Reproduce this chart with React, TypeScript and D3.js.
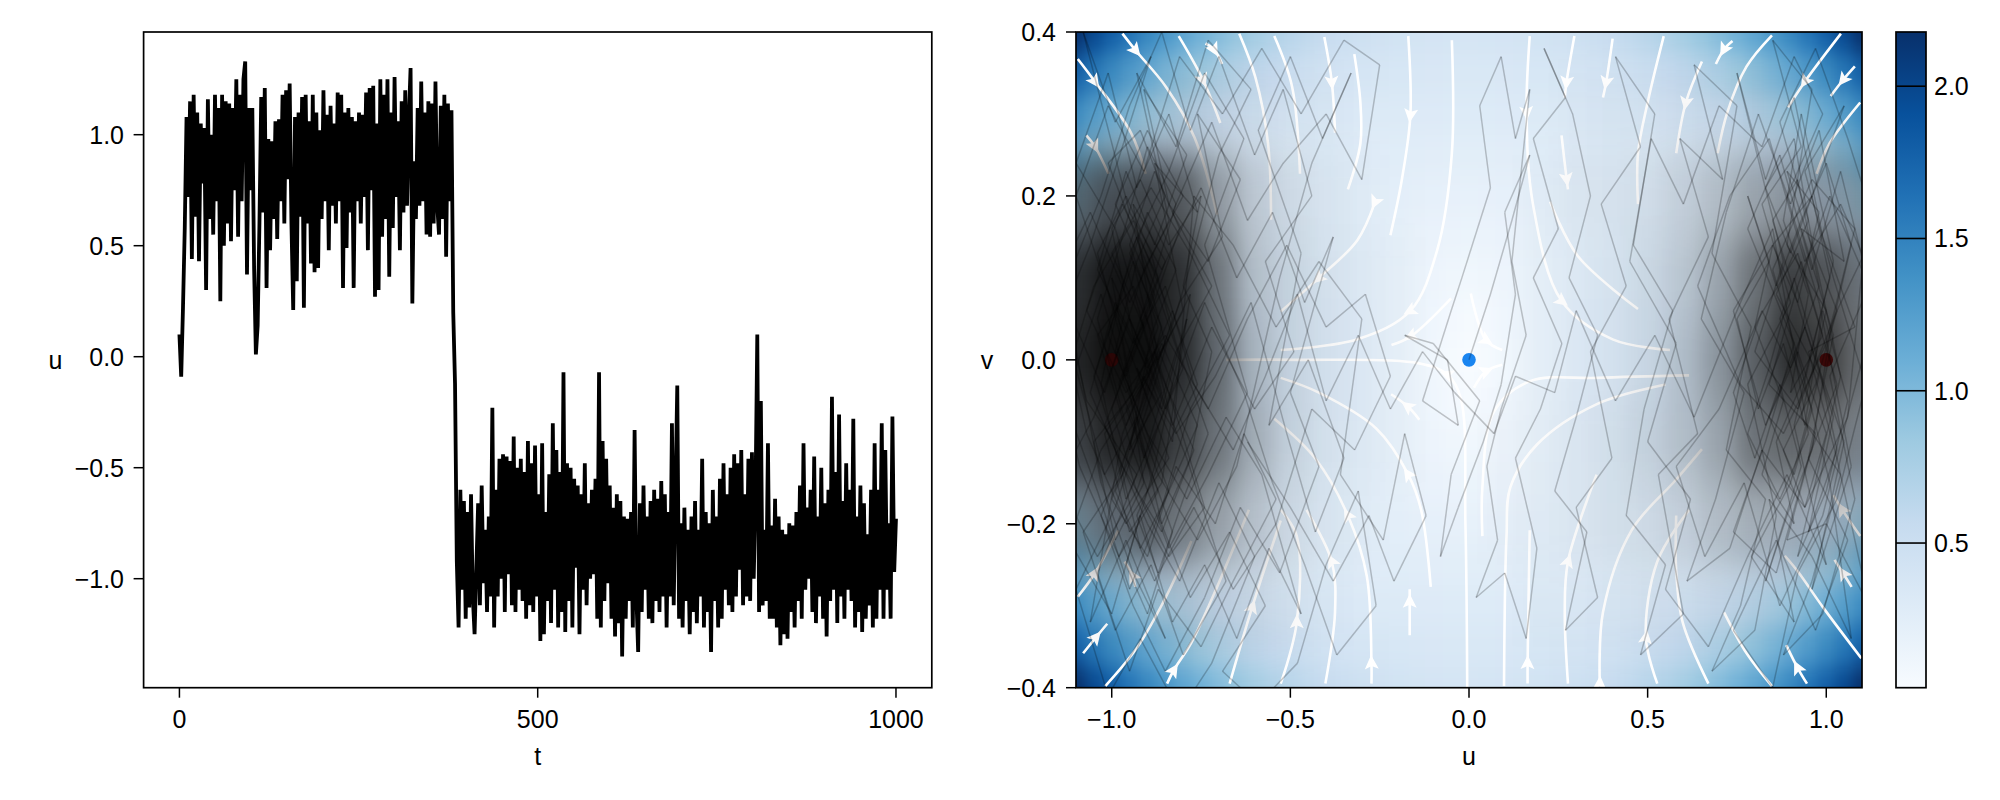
import React from "react";
import * as d3 from "d3";

// Time series u(t), hundredths, evenly spaced over t = 0..1000
const seriesU = [
10,-9,22,58,108,72,115,44,118,63,110,43,105,78,103,30,116,62,100,55,
118,70,112,25,118,50,115,60,114,52,112,75,125,54,118,70,125,133,37,112,
75,112,40,1,14,60,117,65,121,31,98,48,97,62,106,53,107,70,118,60,
120,80,123,60,21,108,34,110,63,117,22,118,60,106,42,118,38,110,40,102,
62,120,70,109,48,113,68,105,60,119,70,118,31,110,49,112,65,108,31,106,
70,110,60,109,72,119,48,121,75,122,27,105,30,125,54,118,62,125,36,110,
58,126,72,106,48,115,65,120,68,107,130,24,88,62,112,68,124,70,110,55,
115,54,114,60,124,68,55,113,62,118,45,114,70,111,
20,-12,-92,-122,
-60,-105,-65,-118,-70,-113,-62,-108,-125,-95,-66,-112,-58,-102,-78,-115,-72,-108,-23,-122,
-60,-108,-46,-100,-44,-115,-45,-98,-47,-112,-36,-115,-50,-105,-46,-110,-52,-118,-38,-112,
-48,-115,-40,-108,-62,-128,-39,-125,-70,-110,-53,-120,-30,-105,-42,-122,-52,-115,-7,-124,
-48,-110,-50,-122,-55,-95,-58,-125,-62,-105,-48,-112,-66,-100,-60,-98,-55,-118,-7,-122,
-38,-110,-46,-102,-58,-118,-68,-126,-62,-120,-65,-135,-72,-118,-73,-110,-70,-122,-33,-108,
-133,-66,-115,-58,-105,-72,-118,-65,-120,-60,-110,-64,-115,-56,-108,-62,-122,-70,-108,-30,-112,
-60,-13,-118,-75,-122,-68,-110,-78,-125,-72,-115,-65,-120,-78,-108,-46,-122,-70,-115,-75,
-133,-60,-110,-72,-122,-55,-118,-48,-105,-62,-112,-50,-115,-44,-108,-48,-96,-42,-112,-62,
-108,-46,-110,-43,-100,-62,10,-115,-20,-112,-78,-110,-39,-118,-76,-118,-64,-122,-72,-130,-78,-125,
-80,-127,-75,-115,-76,-122,-70,-110,-58,-118,-39,-105,-68,-100,-60,-115,-45,-120,-72,-108,
-50,-118,-66,-126,-60,-110,-18,-105,-52,-120,-26,-108,-65,-118,-48,-105,-60,-110,-28,-122,
-72,-115,-58,-124,-66,-118,-80,-112,-60,-122,-39,-118,-60,-105,-30,-118,-42,-105,-75,-118,-27,-97,-73,
];
const timeTicks = [0, 500, 1000];
const seriesTicks = [-1, -0.5, 0, 0.5, 1];

// Phase-plane trajectory as u,v pairs in hundredths
const pathStart = [
0,0,6,8,12,17,17,25,10,18,13,8,9,-3,4,-10,-3,-18,-8,-24,-5,-14,3,-5,-10,2,-18,3,-6,0,-3,-8,-13,-5,-5,6,-2,10,
6,21,3,31,9,37,13,27,17,33,12,12,16,3,9,-6,5,-13,8,-22,2,-29,10,-26,16,-34,19,-23,13,-12,20,-6,26,2,18,10,
25,16,18,27,27,32,21,38,29,30,34,20,28,10,36,3,30,-7,24,-16,33,-21,27,-33,36,-29,30,-18,40,-12,34,1,
];
const pathRightWell = [
44,9,37,19,48,26,41,37,52,30,46,14,57,6,49,-6,44,-19,55,-25,48,-36,60,-31,53,-14,64,-9,56,5,67,15,59,27,71,22,
63,36,75,31,68,13,79,4,72,-11,83,-17,76,-30,68,-38,80,-33,86,-19,78,-3,90,7,82,19,93,26,85,39,96,33,89,14,
100,6,93,-7,104,-14,96,-27,88,-36,99,-31,108,-17,101,-2,112,9,104,23,96,11,87,25,78,16,91,2,83,-10,74,-21,86,-26,
95,-12,102,3,93,16,105,12,98,28,90,19,81,30,72,18,65,5,77,-4,69,-17,61,-27,73,-23,82,-11,94,-18,106,-7,110,11,
101,20,92,9,84,-3,97,-9,89,-22,100,-20,112,-30,103,-12,95,1,108,4,99,15,91,32,83,22,75,35,88,12,80,1,
92,-6,103,6,114,16,106,27,97,38,87,29,95,17,86,8,98,-2,90,-15,79,-24,91,-32,84,-17,96,-24,107,-34,101,-15,
93,-1,85,11,96,22,108,16,100,2,88,-9,76,-3,64,9,73,20,84,27,94,12,104,19,115,8,107,-5,99,-19,87,-30,
77,-15,66,-24,58,-13,70,-6,81,5,92,13,103,-3,95,-12,106,-22,97,-33,86,-22,74,-33,85,-40,92,-26,103,-17,
111,-3,102,10,94,23,105,31,96,20,85,14,74,6,83,-8,94,4,105,-10,96,-28,107,-13,98,7,89,20,99,30,91,37,
82,26,70,31,60,19,51,27,45,12,58,2,50,-10,62,-17,55,-28,67,-35,78,-24,89,-14,100,-25,91,-8,102,12,93,30,
];
const pathRightCore = [
88,17,95,8,90,-4,99,3,93,12,87,5,96,-6,91,-14,84,-7,92,1,100,-9,94,-18,88,-11,97,-3,103,6,95,15,89,23,98,18,
92,7,85,14,80,4,88,-5,82,-14,91,-20,86,-10,94,-2,101,10,96,20,90,13,83,21,91,27,97,12,104,-2,98,-13,92,-24,100,-16,
106,-5,99,6,94,-8,88,2,81,-6,75,5,84,12,78,20,86,9,93,17,100,24,107,14,101,3,96,-11,89,-19,83,-27,93,-13,87,-3,
80,-12,74,-4,82,6,90,-1,98,9,92,22,85,17,94,4,102,-7,95,-21,103,-11,97,1,91,10,84,-1,78,-9,87,-17,95,-9,89,6,
];
const pathCrossing = [
85,16,74,5,63,-7,52,3,41,-5,30,6,24,-4,13,-2,7,-9,-4,-4,-13,1,-22,-6,-31,3,-40,-5,-48,8,-57,-2,-66,-11,
];
const pathLeftWell = [
-77,-3,-85,9,-94,2,-104,11,-96,23,-88,14,-79,25,-91,33,-84,19,-73,12,-64,22,-76,30,-69,15,-81,7,-92,-6,-100,-17,-90,-24,-82,-13,
-71,-20,-63,-9,-54,-17,-66,-27,-75,-35,-87,-28,-95,-38,-104,-26,-93,-14,-107,-5,-114,8,-103,20,-95,31,-86,40,-78,28,-70,37,-60,25,
-52,33,-44,20,-57,12,-49,1,-60,-6,-72,4,-83,-8,-94,12,-105,-2,-97,-13,-86,-21,-77,-11,-89,1,-99,16,-110,24,-101,35,-93,21,-84,30,
-76,18,-88,24,-80,6,-91,-3,-103,-11,-112,-22,-100,-31,-92,-19,-83,-32,-74,-25,-65,-34,-56,-23,-47,-31,-58,-14,-68,-7,-79,-17,-90,-9,-101,3,
-93,15,-85,2,-96,-6,-87,-16,-98,-24,-109,-13,-117,2,-106,14,-97,26,-89,37,-99,29,-108,40,-95,18,-86,11,-75,21,-65,10,-55,18,-46,7,
-38,15,-50,-4,-42,-13,-53,-26,-64,-18,-74,-29,-85,-38,-94,-30,-103,-19,-92,-7,-83,5,-94,17,-105,9,-114,-4,-104,-16,-95,-28,-86,-18,-78,-6,
-67,3,-78,13,-89,21,-100,13,-91,4,-102,-8,-90,-20,-81,-27,-70,-15,-60,-24,-72,-37,-81,-43,-92,-34,-101,-41,-110,-28,-99,-18,-88,-3,-79,10,
-70,25,-61,33,-73,39,-82,26,-93,35,-84,17,-95,7,-106,18,-116,9,-107,-9,-96,-20,-84,-12,-93,-1,-82,-9,-71,-2,-61,7,-51,-9,-43,-21,
-35,-12,-45,0,-56,-8,-47,13,-59,28,-50,37,-41,27,-33,35,-44,24,-53,10,-65,-13,-76,-22,-87,-14,-97,-2,-88,8,-99,19,-90,28,-80,20,
-91,11,-102,-4,-112,6,-103,-15,-94,-26,-85,-34,-96,-22,-106,-32,-97,-9,-86,2,-76,-8,-87,-19,-78,-29,-67,-21,-57,-30,-69,-38,-59,-42,-48,-37,
-40,-25,-31,-16,-26,-30,-37,-36,-46,-25,-55,-15,-63,-4,-74,7,-85,-6,-95,5,-105,-7,-115,-15,-104,-24,-93,-16,-83,-3,-94,9,-104,3,-95,-10,
-84,-23,-73,-14,-62,-4,-74,14,-63,27,-74,35,-84,23,-95,13,-86,4,-97,-14,-108,-21,-99,-33,-89,-25,-80,-36,-68,-27,-79,-12,-90,0,-100,10,
-91,-12,-82,1,-72,9,-83,18,-72,29,-62,17,-52,24,-40,30,-30,22,-25,36,-35,39,-47,30,-58,38,-69,30,-81,37,-91,23,-101,31,-110,20,-100,7,
-89,-6,-99,-16,-88,-27,-77,-18,-66,-28,-54,-20,-44,-6,-32,-11,-22,-2,-29,8,-40,4,-51,14,-62,5,-73,-6,-85,3,-96,-4,-107,6,-97,19,-87,10,
];
const pathLeftCore = [
-92,5,-86,-4,-95,-11,-89,3,-82,11,-90,18,-97,9,-103,-3,-96,-17,-88,-9,-80,-1,-87,8,-94,16,-101,24,-92,28,-85,20,-93,12,-99,1,
-91,-8,-84,-16,-92,-23,-98,-12,-106,-4,-99,7,-90,-1,-83,6,-76,-3,-85,-11,-93,-19,-87,-26,-80,-17,-73,-9,-82,2,-89,13,-96,20,-104,13,
-97,2,-91,-15,-99,-22,-105,-10,-94,-4,-87,4,-95,14,-88,23,-81,16,-89,6,-96,-2,-103,8,-110,-1,-102,-14,-93,-7,-86,-20,-78,-12,-72,1,
-80,9,-75,20,-84,14,-92,22,-100,16,-94,3,-86,-6,-79,5,-88,-13,-96,-25,-90,-31,-83,-21,-91,-11,-98,-3,-89,9,-82,19,-90,26,-97,15,
-104,5,-96,-8,-88,1,-81,-8,-74,-18,-84,-24,-93,-16,-100,-6,-92,4,-85,12,-94,19,-87,0,-78,8,-86,-15,-95,-21,-102,-9,-91,-2,-83,-10,
];
const pathLateCentre = [
-77,20,-66,14,-54,4,-42,12,-30,5,-36,-14,-24,-22,-18,-9,-12,-19,-21,-27,-28,-19,-38,-27,-50,-18,-62,-10,
];

const speedByU = [
[0,.05,.1,.15,.2,.25,.3,.35,.4,.45],
[.05,.07,.11,.155,.202,.251,.301,.351,.402,.454],
[.099,.109,.135,.17,.21,.255,.303,.354,.409,.466],
[.147,.152,.167,.19,.222,.261,.307,.36,.419,.486],
[.192,.194,.201,.214,.236,.268,.312,.368,.435,.514],
[.234,.234,.234,.239,.251,.277,.319,.379,.456,.55],
[.273,.271,.266,.263,.266,.286,.327,.393,.483,.594],
[.307,.303,.294,.283,.28,.294,.337,.411,.515,.645],
[.336,.331,.318,.301,.291,.302,.349,.434,.555,.705],
[.359,.353,.336,.315,.299,.311,.364,.463,.601,.773],
[.375,.368,.348,.323,.305,.319,.382,.498,.656,.85],
[.384,.376,.354,.325,.307,.328,.406,.54,.719,.936],
[.384,.375,.351,.322,.308,.34,.437,.591,.792,1.032],
[.375,.366,.341,.313,.307,.357,.476,.652,.875,1.138],
[.357,.348,.323,.3,.308,.381,.524,.723,.968,1.254],
[.328,.319,.297,.283,.314,.416,.583,.805,1.073,1.383],
[.288,.28,.265,.269,.33,.462,.655,.899,1.189,1.523],
[.236,.232,.229,.262,.36,.522,.744,1.006,1.318,1.675],
[.171,.174,.198,.273,.408,.598,.838,1.126,1.461,1.842],
[.093,.117,.19,.31,.477,.691,.952,1.261,1.617,2.021],
[0,.103,.224,.375,.566,.8,1.082,1.411,1.789,2.216],
[.108,.17,.299,.466,.668,.928,1.228,1.576,1.976,2.426],
[.231,.281,.406,.582,.808,1.072,1.389,1.758,2.178,2.653],
[.371,.416,.539,.72,.952,1.235,1.569,1.957,2.398,2.895],
[.528,.571,.692,.878,1.12,1.416,1.767,2.173,2.635,3.155],
];

// How dark the overplotted trajectory looks, rows v = 0.4 .. -0.4, columns u = -1.1 .. 1.1 (steps of 0.1)
const cloudDarkness = [
[0,0,0,0,0,0,0,0,0,0,0,0,0,0,0,0,0,0,0,0,0,0,0],
[.02,.04,.06,.08,.06,.04,.02,.01,0,0,0,0,0,0,.01,.02,.02,.03,.04,.06,.05,.03,.02],
[.50,.65,.70,.62,.35,.15,.07,.03,.01,0,0,0,0,.01,.03,.04,.06,.12,.20,.30,.36,.32,.28],
[.80,.92,.92,.80,.50,.18,.09,.04,.02,.01,0,0,0,.01,.02,.03,.07,.15,.30,.52,.75,.66,.50],
[.85,.95,.95,.82,.55,.22,.09,.04,.02,.01,0,0,0,.01,.02,.03,.07,.18,.36,.60,.82,.76,.55],
[.72,.86,.90,.72,.50,.26,.10,.04,.02,.01,0,0,.01,.02,.03,.05,.10,.18,.30,.52,.58,.54,.44],
[.38,.52,.60,.48,.32,.18,.08,.03,.01,0,0,0,.01,.02,.03,.05,.07,.12,.20,.26,.26,.22,.18],
[.02,.05,.08,.10,.08,.06,.03,.01,0,0,0,0,0,.01,.01,.02,.03,.03,.04,.04,.03,.02,.01],
[0,0,0,0,0,0,0,0,0,0,0,0,0,0,0,0,0,0,0,0,0,0,0],
];

// Streamlines in flow order: u,v pairs; the arrowheads sit at the listed vertices
const streamlines: { pts: number[]; arrows: number[] }[] = [
{ pts:[-1.095,.367,-1.048,.34,-.946,.277,-.905,.227], arrows:[1] },
{ pts:[-.97,.398,-.934,.378,-.848,.333,-.768,.271,-.705,.177], arrows:[1] },
{ pts:[-.8125,.395,-.745,.342,-.696,.289], arrows:[1] },
{ pts:[-.7375,.386,-.714,.379,-.691,.361], arrows:[1] },
{ pts:[-.643,.398,-.598,.345,-.5625,.264,-.554,.171], arrows:[] },
{ pts:[-.545,.395,-.495,.333,-.473,.227], arrows:[] },
{ pts:[-.405,.394,-.384,.339,-.375,.277], arrows:[1] },
{ pts:[-.321,.373,-.304,.314,-.304,.264,-.339,.208], arrows:[] },
{ pts:[-.17,.395,-.164,.299,-.1875,.221,-.22,.152], arrows:[1] },
{ pts:[-.048,.39,-.048,.252,-.089,.134,-.164,.06,-.3125,.025,-.527,.012], arrows:[3] },
{ pts:[-.2625,.193,-.3125,.146,-.42,.1,-.527,.059], arrows:[0,2] },
{ pts:[-.005,-.4,-.01,-.2,-.023,-.047,-.06,-.018,-.143,-.004,-.477,0,-.68,0], arrows:[3] },
{ pts:[-.05,.075,-.162,.029,-.217,.018], arrows:[1] },
{ pts:[-.139,-.073,-.171,-.057,-.218,-.042], arrows:[1] },
{ pts:[-.107,-.277,-.134,-.183,-.17,-.14,-.259,-.084,-.42,-.04,-.527,-.022], arrows:[2] },
{ pts:[-.273,-.395,-.273,-.37,-.286,-.264,-.339,-.19,-.429,-.121,-.545,-.072], arrows:[1,3] },
{ pts:[-.166,-.336,-.166,-.295,-.166,-.28], arrows:[1] },
{ pts:[-.402,-.395,-.375,-.308,-.384,-.246,-.455,-.183], arrows:[2] },
{ pts:[-.527,-.395,-.482,-.32,-.482,-.215,-.527,-.183], arrows:[1] },
{ pts:[-.67,-.395,-.607,-.302,-.527,-.196], arrows:[1] },
{ pts:[-.845,-.395,-.827,-.379,-.777,-.345,-.705,-.277,-.616,-.183], arrows:[1] },
{ pts:[-1.018,-.398,-.929,-.351,-.848,-.289,-.777,-.221], arrows:[] },
{ pts:[-1.08,-.358,-1.045,-.339,-1.0125,-.322], arrows:[1] },
{ pts:[-1.095,-.289,-1.048,-.261,-.982,-.208], arrows:[1] },
{ pts:[-1.071,.274,-1.048,.261,-1.009,.227], arrows:[1] },
{ pts:[-.934,-.277,-.941,-.264,-.964,-.246], arrows:[1] },
{ pts:[1.041,.398,.941,.34,.893,.308], arrows:[1] },
{ pts:[1.08,.358,1.048,.342,1.0125,.322], arrows:[1] },
{ pts:[1.095,.314,1.009,.264,.973,.227], arrows:[] },
{ pts:[.848,.396,.777,.358,.723,.302,.696,.252], arrows:[] },
{ pts:[.7375,.389,.714,.379,.691,.361], arrows:[1] },
{ pts:[.652,.364,.607,.314,.58,.252], arrows:[1] },
{ pts:[.545,.395,.5,.314,.473,.252,.473,.19], arrows:[] },
{ pts:[.402,.392,.384,.339,.375,.32], arrows:[1] },
{ pts:[.295,.395,.273,.339,.268,.32], arrows:[1] },
{ pts:[.259,.274,.273,.221,.277,.208], arrows:[1] },
{ pts:[.17,.395,.161,.302,.179,.19,.259,.072,.402,.025,.5625,.012], arrows:[1,3] },
{ pts:[.227,.193,.304,.127,.473,.062], arrows:[] },
{ pts:[.0375,-.215,.0375,-.155,.07,-.063,.171,-.026,.358,-.022,.616,-.019], arrows:[] },
{ pts:[.098,-.398,.105,-.215,.116,-.155,.191,-.103,.358,-.054,.55,-.03], arrows:[] },
{ pts:[.164,-.395,.164,-.37,.17,-.208], arrows:[1] },
{ pts:[.005,.081,.047,.024,.093,.012], arrows:[1] },
{ pts:[.014,-.034,.047,-.014,.093,-.006], arrows:[1] },
{ pts:[.277,-.395,.268,-.308,.277,-.246,.357,-.14], arrows:[2] },
{ pts:[.366,-.395,.375,-.308,.455,-.208,.58,-.146,.652,-.109], arrows:[0] },
{ pts:[.527,-.395,.495,-.339,.527,-.246,.616,-.183], arrows:[1] },
{ pts:[.67,-.395,.598,-.32,.58,-.258,.58,-.19], arrows:[] },
{ pts:[.848,-.398,.777,-.358,.714,-.308], arrows:[] },
{ pts:[1.098,-.364,.991,-.302,.92,-.258,.884,-.239], arrows:[] },
{ pts:[.946,-.395,.92,-.376,.888,-.348], arrows:[1] },
{ pts:[1.071,-.277,1.048,-.261,1.023,-.244], arrows:[1] },
{ pts:[1.095,-.215,1.045,-.183,1.02,-.165], arrows:[1] },
];

const phaseUTicks = [-1, -0.5, 0, 0.5, 1];
const phaseVTicks = [-0.4, -0.2, 0, 0.2, 0.4];
const colorbarTicks = [0.5, 1, 1.5, 2];
const speedRange = [0.025, 2.178];
const blues = ["#f7fbff","#deebf7","#c6dbef","#9ecae1","#6baed6","#4292c6","#2171b5","#08519c","#08306b"];

const FONT = "'Liberation Sans', Arial, sans-serif";
const TOP = 32, BOTTOM = 687.7;
const fmt = (v: number) => d3.format(".1f")(v).replace("-", "\u2212");

const xT = d3.scaleLinear().domain([-50, 1050]).range([143.6, 931.8]);
const yS = d3.scaleLinear().domain([-1.491, 1.4626]).range([BOTTOM, TOP]);
const xU = d3.scaleLinear().domain([-1.1, 1.1]).range([1076, 1862]);
const yV = d3.scaleLinear().domain([-0.4, 0.4]).range([BOTTOM, TOP]);
const yC = d3.scaleLinear().domain(speedRange).range([BOTTOM, TOP]);
const color = d3
  .scaleLinear<string>()
  .domain(blues.map((_, i) => speedRange[0] + (i / (blues.length - 1)) * (speedRange[1] - speedRange[0])))
  .range(blues)
  .clamp(true);

const seriesPath = d3
  .line<number>()
  .x((_, i) => xT((i * 1000) / (seriesU.length - 1)))
  .y((d) => yS(d / 100))(seriesU)!;

const trajectory = [...pathStart, ...pathRightWell, ...pathRightCore, ...pathCrossing, ...pathLeftWell, ...pathLeftCore, ...pathLateCentre];
const segments = d3.range(0, trajectory.length - 2, 2).map((i) =>
  d3.line()([
    [xU(trajectory[i] / 100), yV(trajectory[i + 1] / 100)],
    [xU(trajectory[i + 2] / 100), yV(trajectory[i + 3] / 100)],
  ])!
);

const streamLine = d3.line<number[]>().x((p) => xU(p[0])).y((p) => yV(p[1])).curve(d3.curveCatmullRom);
const asPairs = (flat: number[]) => d3.range(0, flat.length, 2).map((i) => [flat[i], flat[i + 1]]);

function Frame({ x0, x1 }: { x0: number; x1: number }) {
  return <rect x={x0} y={TOP} width={x1 - x0} height={BOTTOM - TOP} fill="none" stroke="#000" strokeWidth={1.7} />;
}

function HeatCells() {
  const cells: React.ReactNode[] = [];
  speedByU.forEach((col, ui) => {
    const u = ui * 0.05;
    col.forEach((s, vi) => {
      const v = vi * 0.05;
      const uHi = ui === speedByU.length - 1 ? u + 0.3 : u + 0.025;
      const vHi = vi === col.length - 1 ? v + 0.2 : v + 0.025;
      for (const su of ui === 0 ? [1] : [1, -1]) {
        for (const sv of vi === 0 ? [1] : [1, -1]) {
          const xa = ui === 0 ? xU(-0.025) : xU(su * (u - 0.025));
          const xb = xU(su * uHi);
          const ya = vi === 0 ? yV(-0.025) : yV(sv * (v - 0.025));
          const yb = yV(sv * vHi);
          cells.push(
            <rect
              key={`${ui}-${vi}-${su}-${sv}`}
              x={Math.min(xa, xb) - 0.4}
              y={Math.min(ya, yb) - 0.4}
              width={Math.abs(xb - xa) + 0.8}
              height={Math.abs(yb - ya) + 0.8}
              fill={color(s)}
            />
          );
        }
      }
    });
  });
  return <g filter="url(#heatBlur)">{cells}</g>;
}

function CloudCells() {
  return (
    <g filter="url(#cloudBlur)">
      {cloudDarkness.map((row, r) =>
        row.map((d, c) => {
          const u = -1.1 + c * 0.1;
          const v = 0.4 - r * 0.1;
          const uLo = c === 0 ? u - 0.4 : u - 0.05;
          const uHi = c === row.length - 1 ? u + 0.4 : u + 0.05;
          const vHi = r === 0 ? v + 0.2 : v + 0.05;
          const vLo = r === cloudDarkness.length - 1 ? v - 0.2 : v - 0.05;
          return (
            <rect
              key={`${r}-${c}`}
              x={xU(uLo)}
              y={yV(vHi)}
              width={xU(uHi) - xU(uLo)}
              height={yV(vLo) - yV(vHi)}
              fill="#000"
              fillOpacity={d}
            />
          );
        })
      )}
    </g>
  );
}

function Arrowheads() {
  return (
    <>
      {streamlines.flatMap((s, si) => {
        const pairs = asPairs(s.pts);
        return s.arrows.map((a) => {
          const p = pairs[a];
          const q = pairs[Math.min(a + 1, pairs.length - 1)];
          const angle = (Math.atan2(yV(q[1]) - yV(p[1]), xU(q[0]) - xU(p[0])) * 180) / Math.PI;
          return (
            <polygon
              key={`${si}-${a}`}
              points="8,0 -6,-7 -3,0 -6,7"
              fill="#fff"
              transform={`translate(${xU(p[0])},${yV(p[1])}) rotate(${angle})`}
            />
          );
        });
      })}
    </>
  );
}

export default function App() {
  const text = { fontFamily: FONT, fontSize: 25, fill: "#000" } as const;
  return (
    <svg width={2000} height={800} style={{ position: "absolute", left: 0, top: 0, background: "#fff" }}>
      <defs>
        <clipPath id="leftClip"><rect x={143.6} y={TOP} width={788.2} height={BOTTOM - TOP} /></clipPath>
        <clipPath id="rightClip"><rect x={1076} y={TOP} width={786} height={BOTTOM - TOP} /></clipPath>
        <filter id="heatBlur" filterUnits="userSpaceOnUse" x={900} y={-200} width={1100} height={1100} colorInterpolationFilters="sRGB">
          <feGaussianBlur stdDeviation="6 12" />
        </filter>
        <filter id="cloudBlur" filterUnits="userSpaceOnUse" x={900} y={-200} width={1100} height={1100} colorInterpolationFilters="sRGB">
          <feGaussianBlur stdDeviation="11 20" />
        </filter>
        <linearGradient id="barGrad" x1="0" y1="1" x2="0" y2="0">
          {blues.map((c, i) => <stop key={c} offset={i / (blues.length - 1)} stopColor={c} />)}
        </linearGradient>
      </defs>

      {/* left panel */}
      <g clipPath="url(#leftClip)">
        <path d={seriesPath} fill="none" stroke="#000" strokeWidth={3.8} strokeLinejoin="bevel" />
      </g>
      <Frame x0={143.6} x1={931.8} />
      {timeTicks.map((t) => (
        <g key={t}>
          <line x1={xT(t)} x2={xT(t)} y1={BOTTOM} y2={BOTTOM + 10} stroke="#000" strokeWidth={1.5} />
          <text {...text} x={xT(t)} y={728} textAnchor="middle">{t}</text>
        </g>
      ))}
      {seriesTicks.map((t) => (
        <g key={t}>
          <line x1={133.6} x2={143.6} y1={yS(t)} y2={yS(t)} stroke="#000" strokeWidth={1.5} />
          <text {...text} x={124} y={yS(t) + 9} textAnchor="end">{fmt(t)}</text>
        </g>
      ))}
      <text {...text} x={537.7} y={765} textAnchor="middle">t</text>
      <text {...text} x={55.5} y={369} textAnchor="middle">u</text>

      {/* right panel */}
      <g clipPath="url(#rightClip)">
        <HeatCells />
        <g fill="none" stroke="#fff" strokeWidth={2.6}>
          {streamlines.map((s, i) => <path key={i} d={streamLine(asPairs(s.pts))!} />)}
        </g>
        <Arrowheads />
        <circle cx={xU(0)} cy={yV(0)} r={6.8} fill="#1a85f0" />
        <CloudCells />
        <circle cx={xU(-1)} cy={yV(0)} r={6.8} fill="#2a0606" />
        <circle cx={xU(1)} cy={yV(0)} r={6.8} fill="#3a0808" />
        <g fill="none" stroke="#000" strokeOpacity={0.22} strokeWidth={1.5} strokeLinejoin="bevel">
          {segments.map((d, i) => <path key={i} d={d} />)}
        </g>
      </g>
      <Frame x0={1076} x1={1862} />
      {phaseUTicks.map((t) => (
        <g key={t}>
          <line x1={xU(t)} x2={xU(t)} y1={BOTTOM} y2={BOTTOM + 10} stroke="#000" strokeWidth={1.5} />
          <text {...text} x={xU(t)} y={728} textAnchor="middle">{fmt(t)}</text>
        </g>
      ))}
      {phaseVTicks.map((t) => (
        <g key={t}>
          <line x1={1066} x2={1076} y1={yV(t)} y2={yV(t)} stroke="#000" strokeWidth={1.5} />
          <text {...text} x={1056} y={yV(t) + 9} textAnchor="end">{fmt(t)}</text>
        </g>
      ))}
      <text {...text} x={1469} y={765} textAnchor="middle">u</text>
      <text {...text} x={987} y={369} textAnchor="middle">v</text>

      {/* colour bar */}
      <rect x={1896} y={TOP} width={30} height={BOTTOM - TOP} fill="url(#barGrad)" />
      {colorbarTicks.map((t) => (
        <g key={t}>
          <line x1={1896} x2={1926} y1={yC(t)} y2={yC(t)} stroke="#000" strokeWidth={1.6} />
          <text {...text} x={1934} y={yC(t) + 9}>{t.toFixed(1)}</text>
        </g>
      ))}
      <rect x={1896} y={TOP} width={30} height={BOTTOM - TOP} fill="none" stroke="#000" strokeWidth={1.7} />
    </svg>
  );
}
